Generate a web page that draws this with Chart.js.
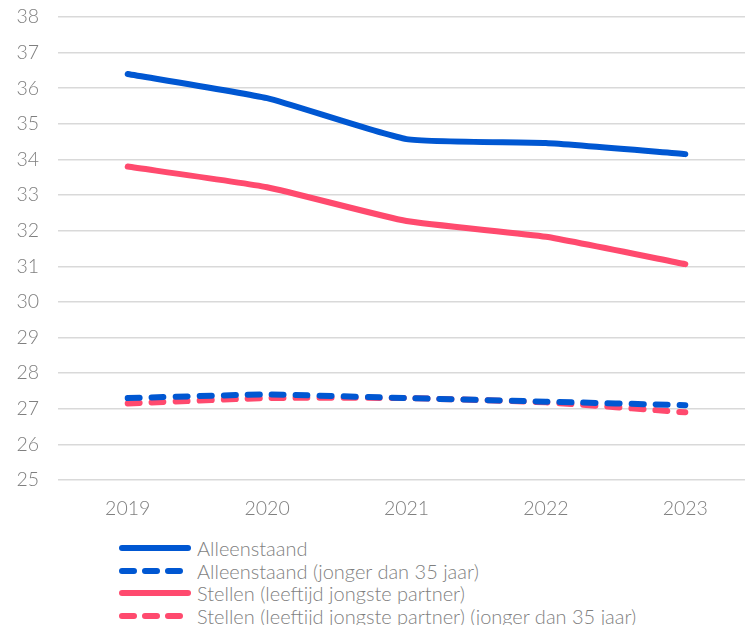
<!DOCTYPE html>
<html>
<head>
<meta charset="utf-8">
<script src="https://cdn.jsdelivr.net/npm/chart.js@4.4.1/dist/chart.umd.min.js"></script>
<style>
  body { margin: 0; background: #fff; overflow: hidden; }
  #wrap { position: relative; width: 760px; height: 625px; }
  #grafiek { position: absolute; left: 0; top: 0; }
  #legenda { position: absolute; left: 118px; top: 537px; font-family: Lato, sans-serif; font-weight: 300; font-size: 20px; color: #7f7f7f; }
  .item { display: flex; align-items: center; height: 22.5px; white-space: nowrap; }
  .item svg { margin-right: 5px; }
</style>
</head>
<body>
<div id="wrap">
  <canvas id="grafiek" width="760" height="530"></canvas>
  <div id="legenda"></div>
</div>
<script>
const jaren = ['2019', '2020', '2021', '2022', '2023'];
const alleenstaand = [36.4, 35.72, 34.57, 34.46, 34.15];
const alleenstaandJong = [27.3, 27.4, 27.3, 27.2, 27.1];
const stellen = [33.8, 33.22, 32.27, 31.83, 31.06];
const stellenJong = [27.15, 27.3, 27.3, 27.18, 26.9];

const blauw = '#0057d2';
const roze = '#ff4a6e';

function lijn(label, data, kleur, gestreept) {
    return {
        label: label,
        data: data,
        borderColor: kleur,
        backgroundColor: kleur,
        borderWidth: 6,
        borderDash: gestreept ? [12, 12] : [],
        borderCapStyle: 'round',
        borderJoinStyle: 'round',
        pointRadius: 0,
        tension: 0.15,
        fill: false
    };
}

const datasets = [
    lijn('Alleenstaand', alleenstaand, blauw, false),
    lijn('Alleenstaand (jonger dan 35 jaar)', alleenstaandJong, blauw, true),
    lijn('Stellen (leeftijd jongste partner)', stellen, roze, false),
    lijn('Stellen (leeftijd jongste partner) (jonger dan 35 jaar)', stellenJong, roze, true)
];

const tickFont = { family: 'Lato', size: 19.5, weight: 300 };

const ctx = document.getElementById('grafiek').getContext('2d');
const chart = new Chart(ctx, {
    type: 'line',
    data: { labels: jaren, datasets: datasets },
    options: {
        responsive: false,
        animation: false,
        layout: { padding: { top: 17, right: 5, left: 0, bottom: 0 } },
        plugins: {
            legend: { display: false },
            tooltip: { enabled: false }
        },
        scales: {
            x: {
                offset: true,
                grid: { display: false, drawTicks: false },
                border: { display: false },
                ticks: { color: '#7f7f7f', font: tickFont, padding: 17 },
                afterFit: function (scale) { scale.height = 50; }
            },
            y: {
                min: 25,
                max: 38,
                grid: { color: '#d9d9d9', lineWidth: 1.5, drawTicks: false },
                border: { display: false },
                ticks: { stepSize: 1, color: '#7f7f7f', font: tickFont, padding: 19 },
                afterFit: function (scale) {
                    scale.width = 58;
                    scale.paddingTop = 0;
                    scale.paddingBottom = 0;
                }
            }
        }
    }
});

// legenda onder de grafiek, een item per regel
const legenda = document.getElementById('legenda');
datasets.forEach(function (ds) {
    const rij = document.createElement('div');
    rij.className = 'item';
    const dash = ds.borderDash.length ? 'stroke-dasharray="12 11"' : '';
    rij.innerHTML = '<svg width="74" height="8"><line x1="4" y1="4" x2="70" y2="4" stroke="' + ds.borderColor +
        '" stroke-width="6" stroke-linecap="round" ' + dash + '/></svg><span>' + ds.label + '</span>';
    legenda.appendChild(rij);
});
</script>
</body>
</html>
